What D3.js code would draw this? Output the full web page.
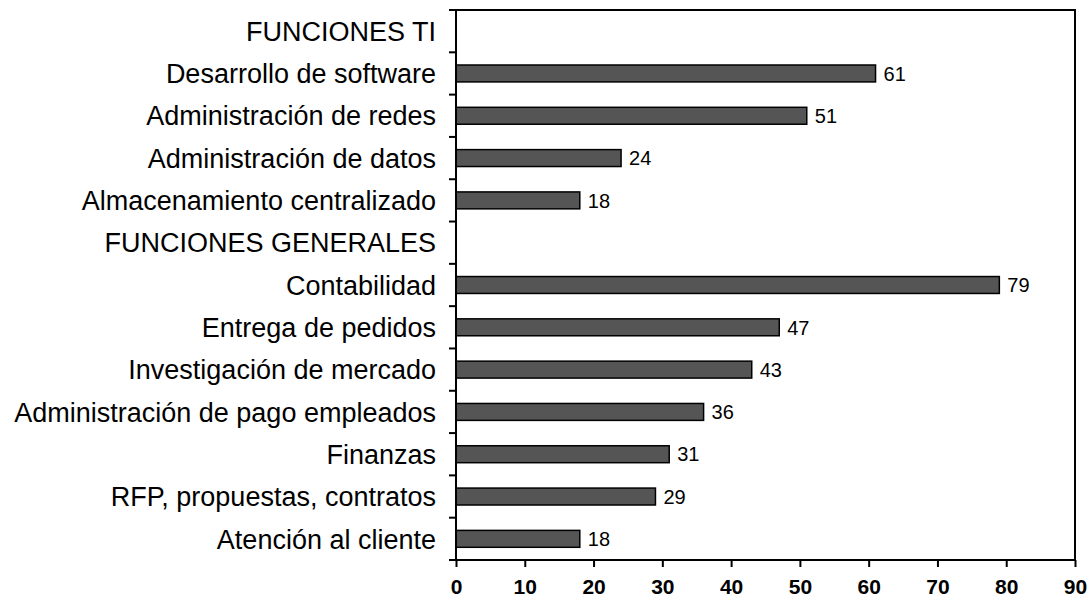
<!DOCTYPE html>
<html>
<head>
<meta charset="utf-8">
<script src="https://cdn.jsdelivr.net/npm/d3@7"></script>
<style>
  body { margin: 0; background: #fff; }
  svg { display: block; font-family: "Liberation Sans", Arial, sans-serif; }
</style>
</head>
<body>
<div id="chart"></div>
<script>
"use strict"

// categories top to bottom (headers have no value)
const categories = ["FUNCIONES TI", "Desarrollo de software", "Administración de redes",
  "Administración de datos", "Almacenamiento centralizado", "FUNCIONES GENERALES",
  "Contabilidad", "Entrega de pedidos", "Investigación de mercado",
  "Administración de pago empleados", "Finanzas", "RFP, propuestas, contratos",
  "Atención al cliente"];
const values = [null, 61, 51, 24, 18, null, 79, 47, 43, 36, 31, 29, 18];
const xTicks = [0, 10, 20, 30, 40, 50, 60, 70, 80, 90];

// set the dimensions and margins of the graph
const margin = {top: 10, right: 12, bottom: 38, left: 456},
  width = 1087 - margin.left - margin.right,
  height = 598 - margin.top - margin.bottom;

const svg = d3.select("#chart")
.append("svg")
  .attr("width", 1087)
  .attr("height", 598)
.append("g")
  .attr("transform", "translate(" + margin.left + "," + margin.top + ")");

// scales
const x = d3.scaleLinear()
  .domain([0, 90])
  .range([0, width]);

const y = d3.scaleBand()
  .domain(categories)
  .range([0, height])
  .padding(0);

const barH = y.bandwidth() * 0.4;

// bars
const rows = categories.map((c, i) => ({cat: c, value: values[i]}))
  .filter(d => d.value !== null);

svg.selectAll(".bar")
  .data(rows)
  .enter()
  .append("rect")
    .attr("class", "bar")
    .attr("x", x(0))
    .attr("y", d => y(d.cat) + (y.bandwidth() - barH) / 2)
    .attr("width", d => x(d.value))
    .attr("height", barH)
    .style("fill", "#555555")
    .style("stroke", "#000")
    .style("stroke-width", 1.5);

// value labels
svg.selectAll(".val")
  .data(rows)
  .enter()
  .append("text")
    .attr("class", "val")
    .attr("x", d => x(d.value) + 8)
    .attr("y", d => y(d.cat) + y.bandwidth() / 2)
    .attr("dy", "0.36em")
    .style("font-size", "20px")
    .text(d => d.value);

// box around plot
svg.append("rect")
  .attr("width", width)
  .attr("height", height)
  .style("fill", "none")
  .style("stroke", "#000")
  .style("stroke-width", 2);

// left ticks at band boundaries
const bounds = categories.map(c => y(c)).concat([height]);
svg.selectAll(".ytick")
  .data(bounds)
  .enter()
  .append("line")
    .attr("x1", -7).attr("x2", 0)
    .attr("y1", d => d).attr("y2", d => d)
    .style("stroke", "#000")
    .style("stroke-width", 2);

// category labels
svg.selectAll(".cat")
  .data(categories)
  .enter()
  .append("text")
    .attr("class", "cat")
    .attr("x", -20)
    .attr("y", d => y(d) + y.bandwidth() / 2)
    .attr("dy", "0.36em")
    .attr("text-anchor", "end")
    .style("font-size", "27px")
    .text(d => d);

// x axis
const xAxis = svg.append("g")
  .attr("transform", "translate(0," + height + ")")
  .call(d3.axisBottom(x).tickValues(xTicks).tickSize(7).tickPadding(12));

xAxis.select(".domain").remove();
xAxis.selectAll("line").style("stroke-width", 2);
xAxis.selectAll("text")
  .style("font-family", "'Liberation Sans', Arial, sans-serif")
  .style("font-size", "21px")
  .style("font-weight", "bold")
  .style("fill", "#000");
</script>
</body>
</html>
